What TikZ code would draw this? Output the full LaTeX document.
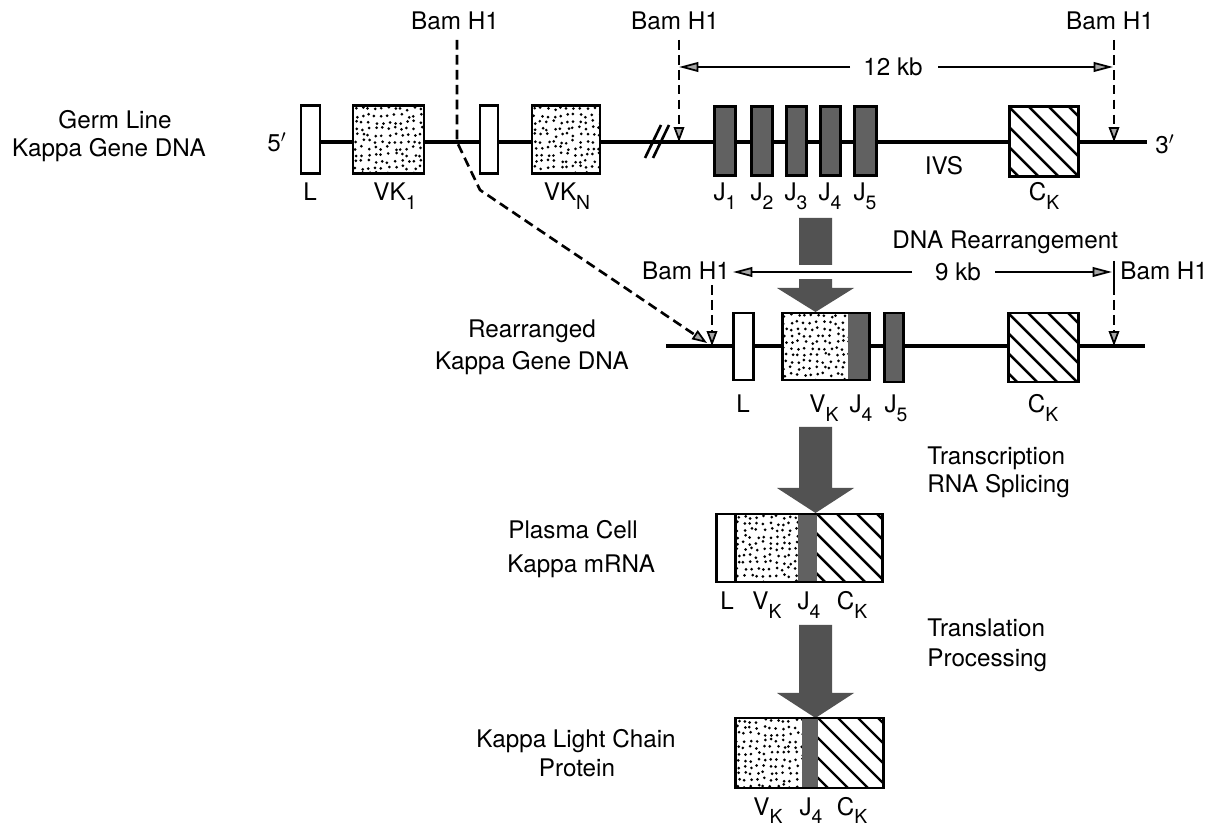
\documentclass[tikz,border=0pt]{standalone}
\usepackage{fontspec}
\setmainfont{TeX Gyre Heros}
\usetikzlibrary{arrows.meta}
\newcommand\lo[1]{\raisebox{-5pt}{\fontsize{11}{11}\selectfont #1}}
\newcommand\stip[4]{%
  \fill[white] (#1,#2) rectangle (#3,#4);
  \begin{scope}
  \clip (#1,#2) rectangle (#3,#4);
  \pgfmathtruncatemacro\stipnx{(#3-#1)/6.5}%
  \pgfmathtruncatemacro\stipny{(#4-#2)/6.5}%
  \foreach \i in {0,...,\stipnx}{\foreach \j in {0,...,\stipny}{%
     \fill ({#1+3+\i*6.5+1.8*rand},{#2+3+\j*6.5+1.8*rand}) circle (0.85pt);}}
  \end{scope}}
\newcommand\hatch[4]{%
  \fill[white] (#1,#2) rectangle (#3,#4);
  \begin{scope}
  \clip (#1,#2) rectangle (#3,#4);
  \foreach \c in {-140,-120,...,100}{\draw[line width=1.4pt] ({#1+\c},#2) -- ++(150,150);}
  \end{scope}}
\begin{document}
\begin{tikzpicture}[x=0.02cm,y=-0.02cm,
  every node/.style={font=\fontsize{13.8}{16}\selectfont, inner sep=0pt},
  dna/.style={line width=1.8pt},
  boxline/.style={line width=1.7pt},
  dashline/.style={line width=1.5pt, dash pattern=on 5.5pt off 3pt},
  tipsmall/.style={-{Triangle[length=8.5pt,width=6pt,fill=black!35,line width=1pt]}},
  tipbig/.style={line width=1.5pt,-{Triangle[length=11pt,width=5.5pt,fill=black!35,line width=1pt]}},
  jfill/.style={fill=black!62},
  bigarrow/.style={fill=black!68},
  lbl/.style={anchor=base},
  lblw/.style={anchor=base west}]
\pgfmathsetseed{7}
\useasboundingbox (0,0) rectangle (1214,830);

% ---------------- Row 1: germ line ----------------
\node[lbl] (gl1) at (115,129) {Germ Line};
\node[lbl] (gl2) at (109,157) {Kappa Gene DNA};
\node (p5) at (277,142) {5$'$};
\node (p3) at (1165,144) {3$'$};
\coordinate (g0) at (320,142); \coordinate (g1) at (1147,142);
\draw[dna] (g0) -- (g1);
\draw[boxline, fill=white] (301,106) rectangle (320,174);
\stip{353}{106}{424}{174}
\draw[boxline] (353,106) rectangle (424,174);
\draw[boxline, fill=white] (480,106) rectangle (498,174);
\stip{532}{106}{600}{174}
\draw[boxline] (532,106) rectangle (600,174);
\draw[line width=1.5pt] (645,158) -- (661,125);
\draw[line width=1.5pt] (653,158) -- (669,125);
\foreach \a/\b in {714/735,751/772,786/806,820/840,854/876}
  \draw[boxline, jfill] (\a,107) rectangle (\b,176);
\hatch{1009}{107}{1078}{177}
\draw[boxline] (1009,107) rectangle (1078,177);

\node[lbl] (l1) at (310,201) {L};
\node[lbl] (v1) at (395,201) {VK\lo{1}};
\node[lbl] (vn) at (567,201) {VK\lo{N}};
\node[lbl] (j1) at (725,201) {J\lo{1}};
\node[lbl] (j2) at (762,201) {J\lo{2}};
\node[lbl] (j3) at (796,201) {J\lo{3}};
\node[lbl] (j4) at (830,201) {J\lo{4}};
\node[lbl] (j5) at (865,201) {J\lo{5}};
\node[lbl] (ivs) at (944,175) {IVS};
\node[lbl] (ck1) at (1044,201) {C\lo{K}};

% Bam H1 sites, row 1
\node[lbl] (bam1) at (455,30) {Bam H1};
\node[lbl] (bam2) at (675,30) {Bam H1};
\node[lbl] (bam3) at (1110,30) {Bam H1};
\coordinate (d1a) at (457,40); \coordinate (d1b) at (457,142);
\coordinate (d1c) at (480,190); \coordinate (d1d) at (707,343);
\draw[dashline, tipsmall] (d1a) -- (d1b) -- (d1c) -- (d1d);
\coordinate (d2a) at (679,40); \coordinate (d2b) at (679,142);
\draw[dashline, tipsmall] (d2a) -- (d2b);
\coordinate (d3a) at (1114,40); \coordinate (d3b) at (1114,142);
\draw[dashline, tipsmall] (d3a) -- (d3b);
\node (kb12) at (893,67) {12 kb};
\coordinate (k12a) at (850,67); \coordinate (k12b) at (679,67);
\coordinate (k12c) at (938,67); \coordinate (k12d) at (1113,67);
\draw[tipbig] (k12a) -- (k12b);
\draw[tipbig] (k12c) -- (k12d);

% ---------------- Arrow 1 ----------------
\fill[bigarrow] (799,218) -- (832,218) -- (832,288) -- (854,288) -- (815.5,312) -- (777,288) -- (799,288) -- cycle;
\fill[white] (795,265) rectangle (836,279);
\node[lblw] (dnar) at (892,249) {DNA Rearrangement};

% ---------------- Row 2: rearranged ----------------
\node[lbl] (rr1) at (532,338) {Rearranged};
\node[lbl] (rr2) at (532,370) {Kappa Gene DNA};
\coordinate (r0) at (666,346); \coordinate (r1) at (1145,346);
\draw[dna] (r0) -- (r1);
\draw[boxline, fill=white] (733,313) rectangle (753,380);
\stip{782}{313}{848}{380}
\fill[jfill] (848,313) rectangle (869,380);
\draw[boxline] (782,313) rectangle (869,380);
\draw[boxline, jfill] (884,313) rectangle (903,382);
\hatch{1008}{313}{1078}{382}
\draw[boxline] (1008,313) rectangle (1078,382);

\node[lbl] (l2) at (743,413) {L};
\node[lbl] (v2) at (824,413) {V\lo{K}};
\node[lbl] (j42) at (861,413) {J\lo{4}};
\node[lbl] (j52) at (896,413) {J\lo{5}};
\node[lbl] (ck2) at (1043,413) {C\lo{K}};

\node[lbl] (bam4) at (686,280) {Bam H1};
\node[lblw] (bam5) at (1120,280) {Bam H1};
\coordinate (d4a) at (712,285); \coordinate (d4b) at (712,346);
\draw[dashline, tipsmall] (d4a) -- (d4b);
\coordinate (d5a) at (1114,261); \coordinate (d5b) at (1114,285); \coordinate (d5c) at (1114,346);
\draw[line width=1.5pt] (d5a) -- (d5b);
\draw[dashline, tipsmall] (d5b) -- (d5c);
\node (kb9) at (958,272) {9 kb};
\coordinate (k9a) at (912,272); \coordinate (k9b) at (733,272);
\coordinate (k9c) at (995,272); \coordinate (k9d) at (1112,272);
\draw[tipbig] (k9a) -- (k9b);
\draw[tipbig] (k9c) -- (k9d);

% ---------------- Arrow 2 ----------------
\fill[bigarrow] (799,427) -- (832,427) -- (832,488) -- (854,488) -- (815.5,513) -- (777,488) -- (799,488) -- cycle;
\node[lblw] (tr1) at (927,465) {Transcription};
\node[lblw] (tr2) at (927,493) {RNA Splicing};

% ---------------- Row 3: mRNA ----------------
\node[lblw] (pc1) at (508,539) {Plasma Cell};
\node[lblw] (pc2) at (507,573) {Kappa mRNA};
\fill[white] (716,514) rectangle (735,582);
\stip{735}{514}{798}{582}
\fill[jfill] (798,514) rectangle (817,582);
\hatch{817}{514}{882}{582}
\draw[boxline] (716,514) rectangle (882,582);
\draw[boxline] (735,514) -- (735,582);
\node[lbl] (l3) at (727,610) {L};
\node[lbl] (v3) at (767,610) {V\lo{K}};
\node[lbl] (j43) at (809,610) {J\lo{4}};
\node[lbl] (ck3) at (852,610) {C\lo{K}};

% ---------------- Arrow 3 ----------------
\fill[bigarrow] (799,625) -- (832,625) -- (832,693) -- (854,693) -- (815.5,718) -- (777,693) -- (799,693) -- cycle;
\node[lblw] (tl1) at (927,637) {Translation};
\node[lblw] (tl2) at (927,667) {Processing};

% ---------------- Row 4: protein ----------------
\node[lbl] (kl1) at (576,747) {Kappa Light Chain};
\node[lbl] (kl2) at (577,777) {Protein};
\stip{735}{718}{802}{788}
\fill[jfill] (802,718) rectangle (818,788);
\hatch{818}{718}{883}{788}
\draw[boxline] (735,718) rectangle (883,788);
\node[lbl] (v4) at (768,815) {V\lo{K}};
\node[lbl] (j44) at (811,815) {J\lo{4}};
\node[lbl] (ck4) at (852,815) {C\lo{K}};
\end{tikzpicture}
\end{document}
